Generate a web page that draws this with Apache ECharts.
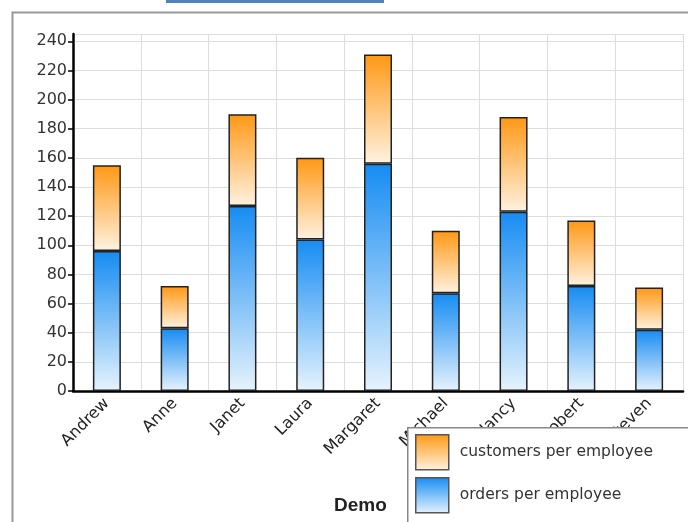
<!DOCTYPE html>
<html>
<head>
<meta charset="utf-8">
<script src="https://cdn.jsdelivr.net/npm/echarts@6/dist/echarts.min.js"></script>
<style>
html, body { margin: 0; padding: 0; background: #fff; }
#chart { width: 688px; height: 522px; }
</style>
</head>
<body>
<div id="chart"></div>
<script>
var employees = ['Andrew', 'Anne', 'Janet', 'Laura', 'Margaret', 'Michael', 'Nancy', 'Robert', 'Steven'];
var orders = [96, 43, 127, 104, 156, 67, 123, 72, 42];
var customers = [59, 29, 63, 56, 75, 43, 65, 45, 29];
var legendNames = ['customers per employee', 'orders per employee'];

var chart = echarts.init(document.getElementById('chart'));

function grad(top, bottom) {
	return new echarts.graphic.LinearGradient(0, 0, 0, 1, [
		{ offset: 0, color: top },
		{ offset: 1, color: bottom }
	]);
}

var font = 'DejaVu Sans';

// one legend per item so they stack like the original box
var legends = legendNames.map(function(name, i) {
	return {
		left: 415,
		top: 434 + i * 43,
		padding: 0,
		icon: 'rect',
		itemWidth: 33,
		itemHeight: 35,
		data: [name],
		itemStyle: { borderColor: '#555', borderWidth: 1.5 },
		textStyle: { fontFamily: font, fontSize: 15.5, color: '#333', padding: [0, 0, 0, 6] }
	};
});

var option = {
	animation: false,
	title: {
		text: 'Demo',
		left: 329,
		top: 491,
		textStyle: { fontFamily: 'Liberation Sans', fontSize: 19, fontWeight: 'bold', color: '#222' }
	},
	legend: legends,
	grid: { left: 73, right: 5, top: 34, bottom: 131 },
	xAxis: {
		type: 'category',
		data: employees,
		axisLine: { lineStyle: { color: '#000', width: 2.5 } },
		axisTick: { length: 5, lineStyle: { color: '#000', width: 1.5 } },
		splitLine: { show: true, lineStyle: { color: '#ddd', width: 1 } },
		axisLabel: { rotate: 45, margin: 10, fontFamily: font, fontSize: 16, color: '#222' }
	},
	yAxis: {
		type: 'value',
		min: 0,
		max: 245,
		interval: 20,
		axisLine: { show: true, lineStyle: { color: '#000', width: 2.5 } },
		axisTick: { show: true, length: 5, lineStyle: { color: '#000', width: 1.5 } },
		splitLine: { lineStyle: { color: '#ddd', width: 1 } },
		axisLabel: { showMaxLabel: false, margin: 6, fontFamily: font, fontSize: 16, color: '#333' }
	},
	series: [{
		name: 'orders per employee',
		type: 'bar',
		stack: 'total',
		barWidth: 28,
		data: orders,
		itemStyle: { color: grad('#168cf2', '#e6f3fd'), borderColor: '#222', borderWidth: 1.5 }
	}, {
		name: 'customers per employee',
		type: 'bar',
		stack: 'total',
		barWidth: 28,
		data: customers,
		itemStyle: { color: grad('#ff9814', '#fff2e0'), borderColor: '#222', borderWidth: 1.5 }
	}],
	graphic: [{
		type: 'rect',
		left: 166, top: 0,
		shape: { width: 218, height: 3 },
		style: { fill: '#4f81bd' }
	}, {
		type: 'rect',
		left: 10, top: 10,
		z: -10,
		shape: { width: 700, height: 530 },
		style: { fill: 'none', stroke: '#999', lineWidth: 2 }
	}, {
		// legend frame, drawn over the axis labels
		type: 'rect',
		left: 407, top: 427,
		z: 3,
		shape: { width: 300, height: 110 },
		style: { fill: '#fff', stroke: '#888', lineWidth: 1.5 }
	}]
};

chart.setOption(option);
</script>
</body>
</html>
